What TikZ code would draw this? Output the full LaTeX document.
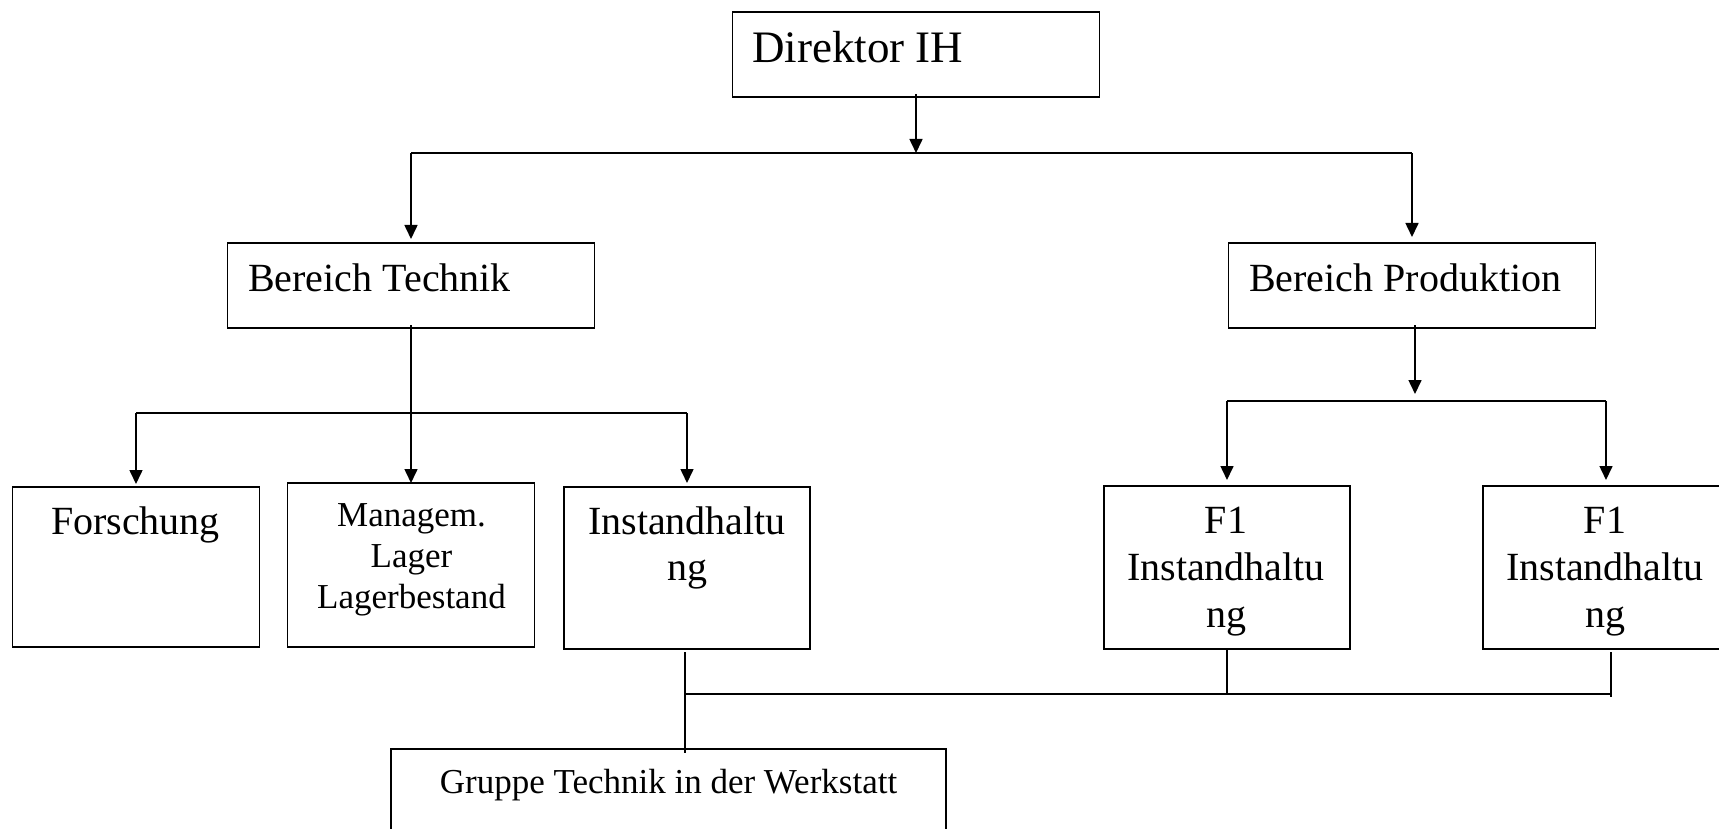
\documentclass[tikz,border=0pt]{standalone}
\usepackage{fontspec}
\setmainfont{Liberation Serif}
\usetikzlibrary{arrows.meta}
\begin{document}
\begin{tikzpicture}[x=1pt,y=-1pt,
  box/.style={draw, line width=1.6pt, inner sep=0pt, outer sep=0pt},
  lbl/.style={inner sep=0pt, anchor=base},
  lblw/.style={inner sep=0pt, anchor=base west},
  big/.style={font=\fontsize{45}{52}\selectfont},
  mid/.style={font=\fontsize{40}{46}\selectfont},
  small/.style={font=\fontsize{35}{41}\selectfont},
  link/.style={line width=1.6pt},
  arr/.style={link, -{Triangle[length=14pt,width=13pt]}}]
\useasboundingbox (0,0) rectangle (1719,829);
\begin{scope}
\clip (0,0) rectangle (1719,829);

% boxes
\node[box, minimum width=367pt, minimum height=85pt] (dir) at (916,54.5) {};
\node[box, minimum width=367pt, minimum height=85pt] (bt) at (411,285.5) {};
\node[box, minimum width=367pt, minimum height=85pt] (bp) at (1412,285.5) {};
\node[box, minimum width=247pt, minimum height=160pt] (fo) at (136,567) {};
\node[box, minimum width=247pt, minimum height=164pt] (ma) at (411,565) {};
\node[box, minimum width=246pt, minimum height=162pt] (in) at (687,568) {};
\node[box, minimum width=246pt, minimum height=163pt] (fa) at (1227,567.5) {};
\node[box, minimum width=246pt, minimum height=163pt] (fb) at (1606,567.5) {};
\node[box, minimum width=555pt, minimum height=111pt] (gr) at (668.5,804.5) {};

% labels
\node[lblw, big] (tdir) at (752,63) {Direktor IH};
\node[lblw, mid] (tbt) at (248,291) {Bereich Technik};
\node[lblw, mid] (tbp) at (1249,291) {Bereich Produktion};
\node[lbl, mid] (tfo) at (135.5,534) {Forschung};
\node[lbl, small] (tma1) at (411.5,526) {Managem.};
\node[lbl, small] (tma2) at (411.5,567) {Lager};
\node[lbl, small] (tma3) at (411.5,608) {Lagerbestand};
\node[lbl, mid] (tin1) at (687,534) {Instandhaltu};
\node[lbl, mid] (tin2) at (687,580) {ng};
\node[lbl, mid] (tfa1) at (1226,533) {F1};
\node[lbl, mid] (tfa2) at (1226,580) {Instandhaltu};
\node[lbl, mid] (tfa3) at (1226,627) {ng};
\node[lbl, mid] (tfb1) at (1605,533) {F1};
\node[lbl, mid] (tfb2) at (1605,580) {Instandhaltu};
\node[lbl, mid] (tfb3) at (1605,627) {ng};
\node[lbl, small] (tgr) at (668.5,793) {Gruppe Technik in der Werkstatt};

% junction points of the connector bars
\coordinate (j1) at (916,153);
\coordinate (j2) at (411,413);
\coordinate (j3) at (1415,401);
\coordinate (j4) at (685,694);
\coordinate (j5) at (1611,694);

% Direktor to the two Bereiche
\draw[arr] ([yshift=3pt]dir.south) -- (j1);
\draw[link] (bt.north |- j1) -- (bp.north |- j1);
\draw[arr] (bt.north |- j1) -- ([yshift=4pt]bt.north);
\draw[arr] (bp.north |- j1) -- ([yshift=6pt]bp.north);

% Bereich Technik to its three groups
\draw[arr] ([yshift=3pt]bt.south) -- (ma.north);
\draw[link] (fo.north |- j2) -- (in.north |- j2);
\draw[arr] (fo.north |- j2) -- ([yshift=3pt]fo.north);
\draw[arr] (in.north |- j2) -- ([yshift=4pt]in.north);

% Bereich Produktion to the two F1 units
\draw[arr] ([yshift=3pt]j3 |- bp.south) -- ([yshift=7pt]j3);
\draw[link] (fa.north |- j3) -- (fb.north |- j3);
\draw[arr] (fa.north |- j3) -- ([yshift=6pt]fa.north);
\draw[arr] (fb.north |- j3) -- ([yshift=6pt]fb.north);

% bottom bus to the workshop group
\draw[link] ([yshift=-3pt]j4 |- in.south) -- ([yshift=-4pt]j4 |- gr.north);
\draw[link] (j4) -- (j5);
\draw[link] (fa.south) -- (fa.south |- j4);
\draw[link] ([yshift=-3pt]j5 |- fb.south) -- ([yshift=-3pt]j5);
\end{scope}
\end{tikzpicture}
\end{document}
